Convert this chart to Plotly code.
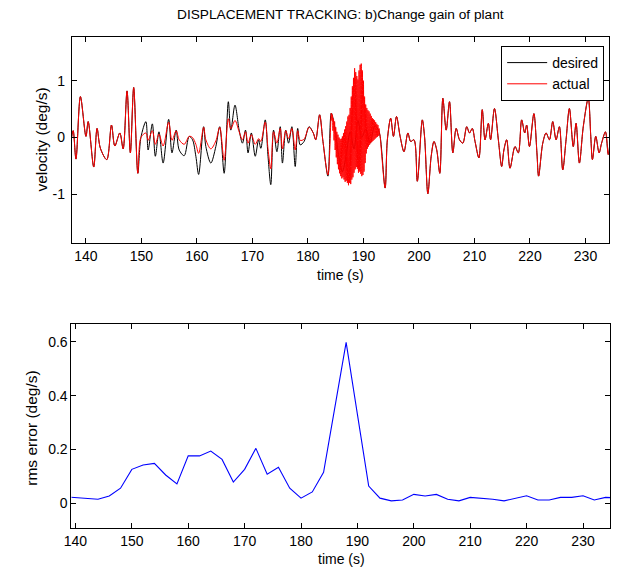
import plotly.graph_objects as go

# ---------------- data ----------------
desired_time = [
    137.4, 137.7, 138.2, 139.0, 140.0, 140.4, 141.4, 142.0, 142.6, 143.75,
    144.6, 145.2, 146.1, 146.7, 147.4, 148.0, 148.6, 149.35, 149.9, 150.8,
    151.2, 151.96, 152.5, 153.15, 153.9, 154.9, 155.5, 156.25, 156.8, 157.7,
    158.6, 159.2, 159.8, 160.3, 161.2, 161.6, 162.5, 163.4, 164.1, 164.9,
    165.65, 166.1, 166.85, 167.6, 168.2, 168.75, 169.2, 169.8, 170.5, 171.1,
    171.5, 172.3, 172.8, 173.3, 173.8, 174.4, 175.0, 175.4, 176.0, 176.5,
    177.1, 177.7, 178.15, 178.6, 179.3, 180.2, 180.95, 181.4, 182.1, 182.7,
    183.6, 184.2, 184.8, 185.5, 186.2, 186.9, 187.6, 188.3, 189.0, 189.7,
    190.4, 191.2, 192.0, 192.6, 193.0, 193.9, 194.3, 194.9, 195.4, 195.95,
    196.6, 197.3, 198.0, 198.5, 199.1, 199.7, 200.6, 201.0, 201.6, 202.2,
    202.7, 203.2, 203.75, 204.3, 204.9, 205.5, 206.1, 206.7, 207.3, 207.9,
    208.6, 209.1, 209.6, 210.1, 210.8, 211.4, 211.9, 212.5, 212.9, 213.6,
    214.3, 214.9, 215.3, 215.8, 216.4, 217.3, 217.9, 218.5, 219.05, 219.4,
    219.9, 220.7, 221.25, 221.55, 222.3, 222.9, 223.5, 224.1, 224.7, 225.3,
    225.9, 226.5, 227.1, 227.8, 228.3, 228.9, 229.6, 230.5, 230.95, 231.25,
    231.85, 232.45, 232.9, 233.6, 234.1, 234.5,
]
desired_vel = [
    0.0, 0.12, -0.38, 0.72, 0.02, 0.28, -0.52, 0.16, -0.19, -0.39,
    0.22, -0.15, 0.08, -0.2, 0.82, -0.27, 0.88, -0.63, 0.0, 0.28,
    -0.22, 0.24, -0.33, 0.1, -0.45, 0.32, -0.27, 0.13, -0.22, -0.32,
    0.02, -0.04, -0.33, -0.65, 0.19, -0.16, -0.45, -0.16, 0.19, -0.63,
    0.63, 0.13, 0.57, 0.13, -0.1, 0.13, -0.27, 0.08, -0.33, -0.04,
    -0.19, 0.31, -0.33, -0.83, 0.13, -0.25, 0.19, -0.45, 0.13, -0.1,
    0.19, -0.51, 0.16, -0.13, -0.07, 0.19, 0.08, -0.04, 0.4, -0.07,
    -0.68, 0.43, 0.2, -0.3, -0.6, -0.3, 0.1, -0.2, 0.3, 0.0,
    0.15, -0.1, 0.2, 0.15, 0.02, -0.89, -0.04, 0.34, 0.02, 0.37,
    0.02, -0.25, 0.08, -0.07, -0.04, -0.77, 0.31, 0.02, -0.99, -0.33,
    -0.07, -0.22, -0.63, 0.69, 0.13, 0.63, -0.27, 0.16, -0.04, -0.1,
    0.19, 0.08, 0.16, -0.07, -0.36, 0.49, -0.04, 0.25, -0.04, 0.51,
    -0.04, -0.51, -0.22, -0.04, -0.54, -0.16, -0.27, 0.31, 0.08, 0.22,
    -0.16, 0.42, -0.27, -0.68, -0.1, 0.08, -0.04, 0.28, -0.04, 0.19,
    -0.57, -0.04, 0.51, -0.16, 0.25, -0.45, 0.19, 0.69, 0.02, -0.39,
    0.02, -0.27, -0.1, 0.1, -0.3, 0.02,
]

# actual velocity where it differs from the desired one (reduced troughs)
actual_mid_time = [
    150.8, 151.2, 151.96, 152.5, 153.15, 153.9, 154.9, 155.5, 156.25, 156.8,
    157.7, 158.6, 159.2, 159.8, 160.3, 161.2, 161.6, 162.5, 163.4, 164.1,
    164.9, 165.65, 166.1, 166.85, 167.6, 168.2, 168.75, 169.2, 169.8, 170.5,
    171.1, 171.5, 172.3, 172.8, 173.3, 173.8, 174.4, 175.0, 175.4, 176.0,
    176.5, 177.1, 177.7, 178.15, 178.6, 179.3, 180.2, 180.95, 181.4, 182.1,
    182.7, 183.6,
]
actual_mid_vel = [
    0.08, -0.05, 0.12, -0.12, 0.06, -0.15, 0.27, -0.05, 0.12, -0.04,
    -0.12, 0.02, 0.0, -0.12, -0.28, 0.18, -0.04, -0.2, -0.06, 0.18,
    -0.4, 0.33, 0.15, 0.3, 0.1, -0.04, 0.1, -0.1, 0.05, -0.12,
    -0.02, -0.07, 0.27, -0.2, -0.55, 0.1, -0.1, 0.16, -0.2, 0.12,
    -0.02, 0.16, -0.22, 0.12, -0.05, -0.03, 0.18, 0.08, -0.04, 0.4,
    -0.07, -0.66,
]

# actual velocity during the oscillation burst
burst_time = [
    184.2, 184.3, 184.4, 184.5, 184.6, 184.7, 184.8, 184.9, 185.0, 185.1,
    185.2, 185.3, 185.4, 185.5, 185.6, 185.7, 185.8, 185.9, 186.0, 186.1,
    186.2, 186.3, 186.4, 186.5, 186.6, 186.7, 186.8, 186.9, 187.0, 187.1,
    187.2, 187.3, 187.4, 187.5, 187.6, 187.7, 187.8, 187.9, 188.0, 188.1,
    188.2, 188.3, 188.4, 188.5, 188.6, 188.7, 188.8, 188.9, 189.0, 189.1,
    189.2, 189.3, 189.4, 189.5, 189.6, 189.7, 189.8, 189.9, 190.0, 190.1,
    190.2, 190.3, 190.4, 190.5, 190.6, 190.7, 190.8, 190.9, 191.0, 191.1,
    191.2, 191.3, 191.4, 191.5, 191.6, 191.7, 191.8, 191.9, 192.0, 192.1,
    192.2, 192.3, 192.4, 192.5, 192.6, 192.7, 192.8, 192.9,
]
burst_vel = [
    0.43, 0.30, 0.40, 0.12, 0.33, -0.05, 0.28, -0.22, 0.18, -0.35,
    0.10, -0.47, 0.05, -0.56, 0.00, -0.63, -0.03, -0.68, -0.02, -0.72,
    0.02, -0.70, 0.08, -0.74, 0.14, -0.78, 0.20, -0.76, 0.28, -0.80,
    0.37, -0.84, 0.40, -0.80, 0.52, -0.82, 0.72, -0.74, 0.90, -0.70,
    1.05, -0.62, 1.22, -0.56, 1.15, -0.52, 1.08, -0.55, 1.02, -0.62,
    1.18, -0.60, 1.28, -0.64, 1.30, -0.68, 1.18, -0.66, 1.00, -0.60,
    0.72, -0.45, 0.58, -0.28, 0.52, -0.20, 0.48, -0.16, 0.46, -0.13,
    0.42, -0.10, 0.38, -0.08, 0.34, -0.06, 0.32, -0.04, 0.30, -0.02,
    0.27, 0.00, 0.24, 0.01, 0.22, 0.03, 0.16, 0.08,
]

rms_time = [138, 140, 142, 144, 146, 148, 150, 152, 154, 156, 158, 160, 162, 164,
            166, 168, 170, 172, 174, 176, 178, 180, 182, 184, 186, 188, 190, 192,
            194, 196, 198, 200, 202, 204, 206, 208, 210, 212, 214, 216, 218, 220,
            222, 224, 226, 228, 230, 232, 234, 236]
rms_error = [0.024, 0.021, 0.018, 0.015, 0.027, 0.056, 0.126, 0.142, 0.148, 0.105,
             0.072, 0.176, 0.176, 0.194, 0.163, 0.079, 0.126, 0.204, 0.108, 0.134,
             0.056, 0.019, 0.042, 0.115, 0.356, 0.598, 0.33, 0.064, 0.019, 0.009,
             0.012, 0.033, 0.027, 0.033, 0.015, 0.009, 0.022, 0.019, 0.015, 0.009,
             0.019, 0.028, 0.012, 0.012, 0.022, 0.022, 0.028, 0.012, 0.022, 0.02]

x_ticks = [140, 150, 160, 170, 180, 190, 200, 210, 220, 230]
vel_ticks = [-1, 0, 1]
vel_ticklabels = ["-1", "0", "1"]
rms_ticks = [0, 0.2, 0.4, 0.6]
rms_ticklabels = ["0", "0.2", "0.4", "0.6"]

assert len(desired_time) == len(desired_vel)
assert len(actual_mid_time) == len(actual_mid_vel)
assert len(burst_time) == len(burst_vel)
assert len(rms_time) == len(rms_error)

# assemble the actual series: follows desired outside the mid / burst windows
actual_time, actual_vel = [], []
for t, v in zip(desired_time, desired_vel):
    if t < actual_mid_time[0]:
        actual_time.append(t); actual_vel.append(v)
actual_time += actual_mid_time; actual_vel += actual_mid_vel
actual_time += burst_time; actual_vel += burst_vel
for t, v in zip(desired_time, desired_vel):
    if t > burst_time[-1]:
        actual_time.append(t); actual_vel.append(v)

# ---------------- figure ----------------
W, H = 617, 570
FONT = "Liberation Sans, Arial, Helvetica, sans-serif"


def fx(px):
    return px / W


def fy(py):
    return 1 - py / H


fig = go.Figure()
fig.add_trace(go.Scatter(x=desired_time, y=desired_vel, name="desired", mode="lines",
                         line=dict(color="black", width=1, shape="spline", smoothing=0.9),
                         xaxis="x", yaxis="y"))
fig.add_trace(go.Scatter(x=actual_time, y=actual_vel, name="actual", mode="lines",
                         line=dict(color="#ff0000", width=1, shape="spline", smoothing=0.9),
                         xaxis="x", yaxis="y"))
fig.add_trace(go.Scatter(x=rms_time, y=rms_error, name="rms", mode="lines",
                         line=dict(color="#0000ff", width=1.1), showlegend=False,
                         xaxis="x2", yaxis="y2"))

axis_common = dict(showline=True, linecolor="black", linewidth=1, mirror="ticks",
                   ticks="inside", ticklen=5, tickcolor="black", tickwidth=1,
                   showgrid=False, zeroline=False,
                   tickfont=dict(family=FONT, size=14, color="black"))

fig.update_layout(
    width=W, height=H,
    margin=dict(l=0, r=0, t=0, b=0),
    paper_bgcolor="white", plot_bgcolor="white",
    font=dict(family=FONT, size=14, color="black"),
    xaxis=dict(domain=[fx(64.7), fx(608.7)], range=[137.46, 234.2], anchor="y",
               tickvals=x_ticks, **axis_common),
    yaxis=dict(domain=[fy(243), fy(37)], range=[-1.857, 1.769], anchor="x",
               tickvals=vel_ticks, ticktext=vel_ticklabels, ticklabelstandoff=3,
               **axis_common),
    xaxis2=dict(domain=[fx(64.3), fx(610)], range=[139.3, 234.8], anchor="y2",
                tickvals=x_ticks, **axis_common),
    yaxis2=dict(domain=[fy(528.3), fy(324)], range=[-0.093, 0.666], anchor="x2",
                tickvals=rms_ticks, ticktext=rms_ticklabels, **axis_common),
    legend=dict(x=fx(604), xanchor="right", y=fy(46), yanchor="top",
                bgcolor="white", bordercolor="black", borderwidth=1,
                font=dict(family=FONT, size=14, color="black"),
                itemwidth=40),
    showlegend=True,
)

annots = [
    dict(text="DISPLACEMENT TRACKING: b)Change gain of plant", x=fx(337), y=fy(15), size=13.7, angle=0),
    dict(text="velocity (deg/s)", x=fx(33), y=fy(140), size=15.5, angle=-90),
    dict(text="time (s)", x=fx(337), y=fy(275), size=14, angle=0),
    dict(text="rms error (deg/s)", x=fx(23), y=fy(428), size=15.5, angle=-90),
    dict(text="time (s)", x=fx(338), y=fy(559), size=14, angle=0),
]
for a in annots:
    fig.add_annotation(text=a["text"], x=a["x"], y=a["y"], xref="paper", yref="paper",
                       xanchor="center", yanchor="middle", showarrow=False,
                       textangle=a["angle"], font=dict(family=FONT, size=a["size"], color="black"))

fig.write_html("out.html")
